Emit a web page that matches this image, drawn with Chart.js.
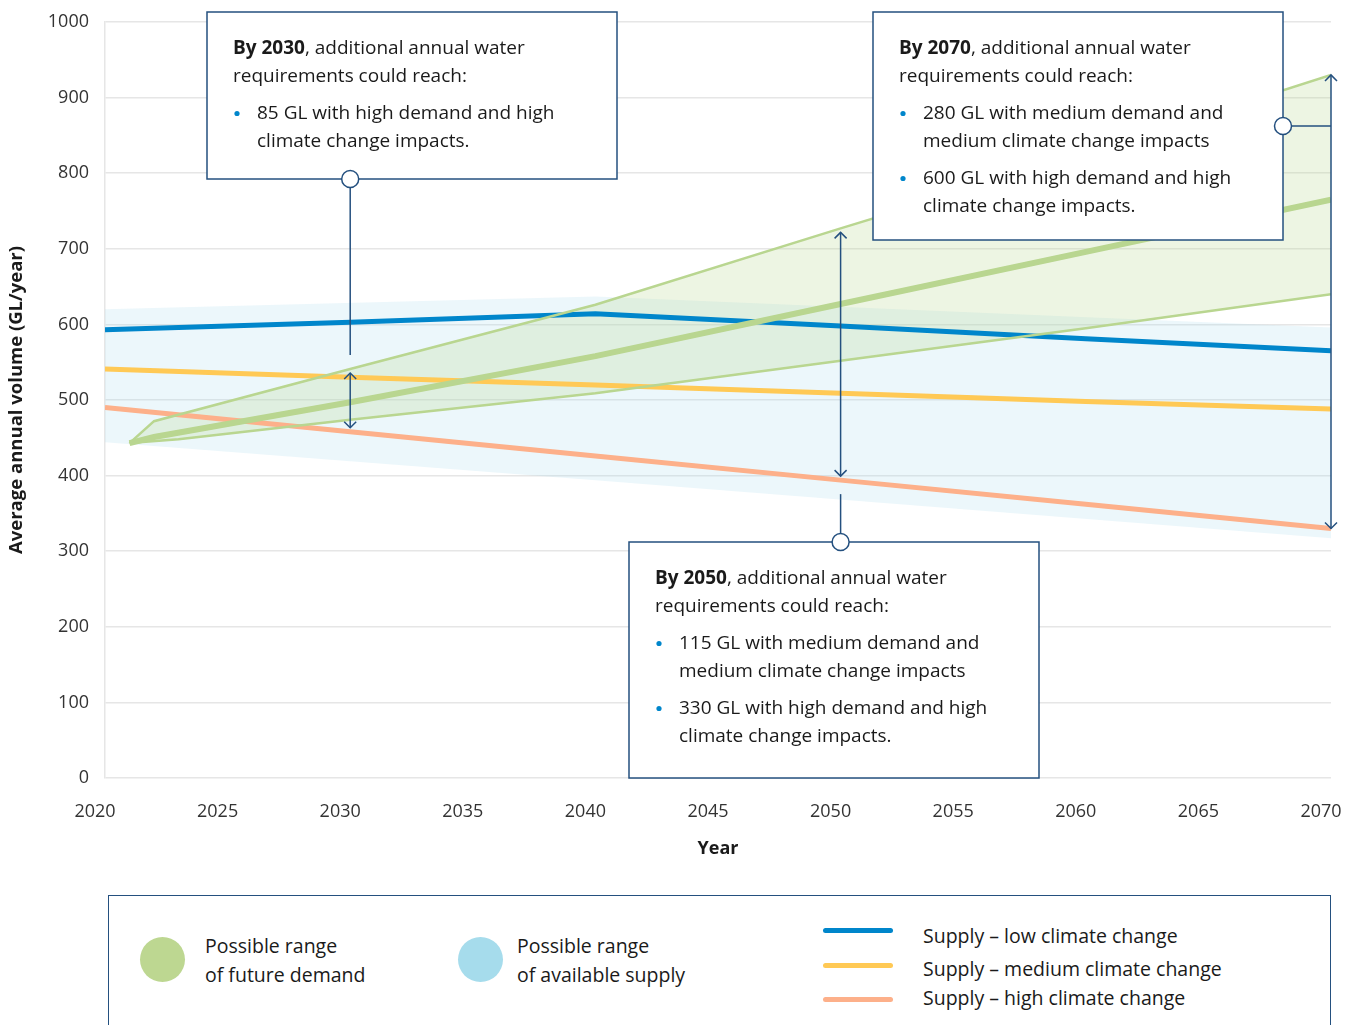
<!DOCTYPE html>
<html><head><meta charset="utf-8">
<script src="https://cdn.jsdelivr.net/npm/chart.js@4.4.1/dist/chart.umd.min.js"></script>
<style>
html,body{margin:0;padding:0;background:#fff;overflow:hidden;width:1346px;height:1025px;font-family:"Open Sans","Noto Sans",sans-serif;color:#1a1a1a;}
#wrap{position:absolute;left:0;top:0;width:1346px;height:880px;}
#legendBox{position:absolute;left:108px;top:895px;width:1223px;height:200px;border:1.5px solid #24507F;box-sizing:border-box;}
.dot{position:absolute;width:45px;height:45px;border-radius:50%;}
.ltxt{position:absolute;font-size:19.5px;line-height:29px;white-space:nowrap;}
.lline{position:absolute;width:70px;height:5px;border-radius:3px;}
</style></head>
<body>
<div id="wrap"><canvas id="c" width="1346" height="880"></canvas></div>
<div id="legendBox"></div>
<div class="dot" style="left:140px;top:937px;background:#BDD791"></div>
<div class="ltxt" style="left:205px;top:931px">Possible range<br>of future demand</div>
<div class="dot" style="left:458px;top:937px;background:#A6DCEC"></div>
<div class="ltxt" style="left:517px;top:931px">Possible range<br>of available supply</div>
<div class="lline" style="left:823px;top:928px;background:#0086CB"></div>
<div class="lline" style="left:823px;top:963px;background:#FFC955"></div>
<div class="lline" style="left:823px;top:997px;background:#FDB08A"></div>
<div class="ltxt" style="left:923px;top:921px">Supply – low climate change</div>
<div class="ltxt" style="left:923px;top:954px">Supply – medium climate change</div>
<div class="ltxt" style="left:923px;top:983px">Supply – high climate change</div>
<script>
// ---- data ----
const supplyYears = [2020, 2030, 2040, 2050, 2060, 2070];
const supplyLow = [593, 603, 614, 598, 581, 565];
const supplyMedium = [541, 530, 520, 509, 498, 488];
const supplyHigh = [490, 458, 426, 394, 362, 330];
const supplyRangeYears = [2020, 2040, 2070];
const supplyRangeTop = [620, 637, 596];
const supplyRangeBottom = [444, 394, 317];
const demandHighYears = [2021, 2022, 2030, 2040, 2050, 2060, 2070];
const demandHigh = [443, 472, 541, 626, 727, 826, 930];
const demandMidYears = [2021, 2022, 2030, 2040, 2050, 2060, 2070];
const demandMid = [443, 451, 497, 558, 627, 696, 765];
const demandLowYears = [2021, 2023, 2030, 2040, 2050, 2060, 2070];
const demandLow = [443, 448, 474, 509, 552, 595, 640];
const xTickValues = [2020, 2025, 2030, 2035, 2040, 2045, 2050, 2055, 2060, 2065, 2070];
const yTickValues = [0, 100, 200, 300, 400, 500, 600, 700, 800, 900, 1000];
const annotationYears = [2030, 2050, 2070];
const annotationHeads = ['By 2030', 'By 2050', 'By 2070'];
const annotationBullets = [
  [['85 GL with high demand and high', 'climate change impacts.']],
  [['115 GL with medium demand and', 'medium climate change impacts'], ['330 GL with high demand and high', 'climate change impacts.']],
  [['280 GL with medium demand and', 'medium climate change impacts'], ['600 GL with high demand and high', 'climate change impacts.']]
];

// ---- styles / layout ----
const NAVY = '#24507F';
const FONT = '"Open Sans", "Noto Sans", sans-serif';
const boxLayout = [
  {l: 207, t: 12, w: 410, h: 167, anchor: 'bottom'},
  {l: 629, t: 542, w: 410, h: 236, anchor: 'top'},
  {l: 873, t: 12, w: 410, h: 228, anchor: 'right', connectY: 126}
];
const pts = (xs, ys) => xs.map((x, i) => ({x, y: ys[i]}));
const valAt = (xs, ys, yr) => ys[xs.indexOf(yr)];

function arrowHead(ctx, x, y, dir) {
  ctx.beginPath();
  ctx.moveTo(x - 6, y + dir * 6);
  ctx.lineTo(x, y);
  ctx.lineTo(x + 6, y + dir * 6);
  ctx.stroke();
}
function circle(ctx, x, y) {
  ctx.beginPath();
  ctx.arc(x, y, 8.5, 0, Math.PI * 2);
  ctx.fillStyle = '#fff'; ctx.fill();
  ctx.lineWidth = 1.5; ctx.strokeStyle = NAVY; ctx.stroke();
}

const annoPlugin = {
  id: 'annos',
  afterDraw(chart) {
    const ctx = chart.ctx, xs = chart.scales.x, ys = chart.scales.y;
    ctx.save();
    annotationYears.forEach((yr, i) => {
      const b = boxLayout[i];
      const px = xs.getPixelForValue(yr);
      const yTop = ys.getPixelForValue(valAt(demandHighYears, demandHigh, yr));
      const yBot = ys.getPixelForValue(valAt(supplyYears, supplyHigh, yr));
      const inset = yr === 2070 ? 0 : 4;
      ctx.strokeStyle = NAVY; ctx.lineWidth = 1.5;
      ctx.beginPath(); ctx.moveTo(px, yTop + inset); ctx.lineTo(px, yBot - inset); ctx.stroke();
      arrowHead(ctx, px, yTop + inset, 1);
      arrowHead(ctx, px, yBot - inset, -1);
      ctx.fillStyle = '#fff';
      ctx.fillRect(b.l, b.t, b.w, b.h);
      ctx.lineWidth = 1.5; ctx.strokeStyle = NAVY;
      ctx.strokeRect(b.l, b.t, b.w, b.h);
      ctx.beginPath();
      if (b.anchor === 'bottom') { ctx.moveTo(px, b.t + b.h); ctx.lineTo(px, yTop - 14); ctx.stroke(); circle(ctx, px, b.t + b.h); }
      else if (b.anchor === 'top') { ctx.moveTo(px, yBot + 14); ctx.lineTo(px, b.t); ctx.stroke(); circle(ctx, px, b.t); }
      else { ctx.moveTo(b.l + b.w, b.connectY); ctx.lineTo(px, b.connectY); ctx.stroke(); circle(ctx, b.l + b.w, b.connectY); }
      ctx.fillStyle = '#1a1a1a'; ctx.textBaseline = 'middle'; ctx.textAlign = 'left';
      const x0 = b.l + 26;
      let y = b.t + 36.5;
      ctx.font = 'bold 19px ' + FONT;
      ctx.fillText(annotationHeads[i], x0, y);
      const w = ctx.measureText(annotationHeads[i]).width;
      ctx.font = '19px ' + FONT;
      ctx.fillText(', additional annual water', x0 + w, y);
      y += 28;
      ctx.fillText('requirements could reach:', x0, y);
      annotationBullets[i].forEach(lines => {
        y += 37;
        ctx.beginPath(); ctx.arc(b.l + 30, y, 2.6, 0, Math.PI * 2); ctx.fillStyle = '#0086CB'; ctx.fill();
        ctx.fillStyle = '#1a1a1a';
        lines.forEach((ln, k) => { ctx.fillText(ln, b.l + 50, y + k * 28); });
        y += 28 * (lines.length - 1);
      });
    });
    ctx.restore();
  }
};

const lineDs = (label, data, color, width, extra) => Object.assign({
  label, data, borderColor: color, borderWidth: width, pointRadius: 0, fill: false, tension: 0, borderCapStyle: 'butt'
}, extra || {});

new Chart(document.getElementById('c'), {
  type: 'line',
  data: {
    datasets: [
      lineDs('Demand – medium', pts(demandMidYears, demandMid), '#B9D690', 6),
      lineDs('Demand – high', pts(demandHighYears, demandHigh), '#B9D690', 2.5, {fill: 2, backgroundColor: 'rgba(185,214,144,0.25)'}),
      lineDs('Demand – low', pts(demandLowYears, demandLow), '#B9D690', 2.5),
      lineDs('Supply – low climate change', pts(supplyYears, supplyLow), '#0086CB', 5),
      lineDs('Supply – medium climate change', pts(supplyYears, supplyMedium), '#FFC955', 5),
      lineDs('Supply – high climate change', pts(supplyYears, supplyHigh), '#FDB08A', 5),
      lineDs('Supply range top', pts(supplyRangeYears, supplyRangeTop), 'rgba(0,0,0,0)', 0, {fill: 7, backgroundColor: 'rgba(160,215,235,0.2)'}),
      lineDs('Supply range bottom', pts(supplyRangeYears, supplyRangeBottom), 'rgba(0,0,0,0)', 0)
    ]
  },
  options: {
    responsive: false,
    animation: false,
    layout: {padding: {top: 22, right: 15, left: 0, bottom: 0}},
    plugins: {
      legend: {display: false},
      tooltip: {enabled: false},
      filler: {drawTime: 'beforeDatasetsDraw'}
    },
    scales: {
      x: {
        type: 'linear', min: 2020, max: 2070,
        afterBuildTicks: s => { s.ticks = xTickValues.map(v => ({value: v})); },
        afterFit: s => { s.height = 102; s.paddingLeft = 0; s.paddingRight = 0; },
        grid: {display: false, drawTicks: false},
        border: {display: false},
        ticks: {padding: 23, labelOffset: -10, color: '#333', font: {family: FONT, size: 18}, maxRotation: 0, callback: v => String(v)},
        title: {display: true, text: 'Year', color: '#1a1a1a', font: {family: FONT, size: 18, weight: 'bold'}, padding: {top: 0, bottom: 20}}
      },
      y: {
        min: 0, max: 1000,
        afterBuildTicks: s => { s.ticks = yTickValues.map(v => ({value: v})); },
        afterFit: s => { s.width = 105; s.paddingTop = 0; s.paddingBottom = 0; },
        grid: {color: '#E6E6E6', lineWidth: 1.5, drawTicks: false},
        border: {display: true, color: '#E6E6E6', width: 1.5},
        ticks: {padding: 16, color: '#333', font: {family: FONT, size: 18}, callback: v => String(v)},
        title: {display: true, text: 'Average annual volume (GL/year)', color: '#1a1a1a', font: {family: FONT, size: 18.5, weight: 'bold'}, padding: {top: 6, bottom: 0}}
      }
    }
  },
  plugins: [annoPlugin]
});
</script>
</body></html>
